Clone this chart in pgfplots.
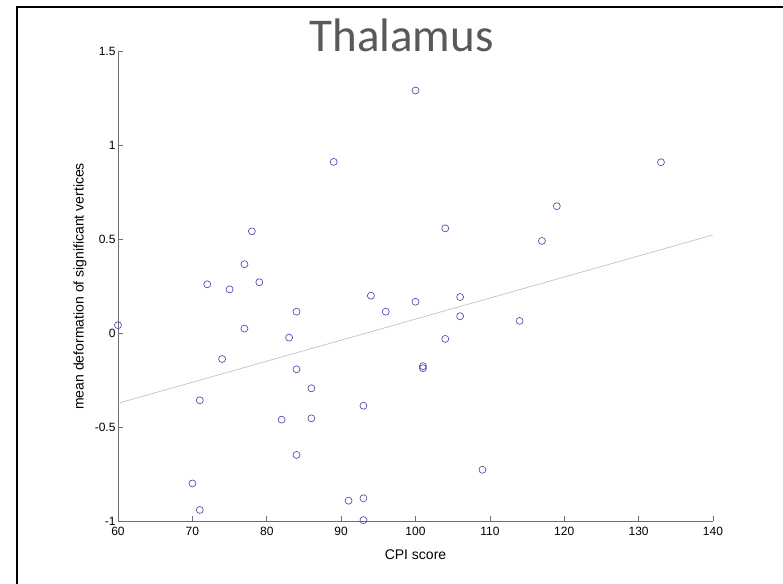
\documentclass[border=0pt]{standalone}
\usepackage{fontspec}
\setmainfont{Liberation Sans}
\newfontfamily\titlefont{Carlito}
\usepackage{pgfplots}
\pgfplotsset{compat=1.18}
\definecolor{markblue}{RGB}{72,72,172}
\definecolor{titlegray}{RGB}{89,89,89}
\definecolor{axisgray}{RGB}{110,110,110}
\definecolor{fitgray}{RGB}{195,195,195}

\begin{document}
\begin{tikzpicture}[x=1pt,y=1pt]
  \useasboundingbox (0,0) rectangle (783,583);
  % outer frame (cropped at right and bottom)
  \draw[line width=2pt] (16.5,-5) -- (16.5,575.5) -- (790,575.5);
  \node[font=\titlefont\fontsize{47}{50}\selectfont, text=titlegray, anchor=base]
    at (401.5,531.3) {Thalamus};
  \begin{axis}[
      at={(118pt,62pt)}, anchor=south west,
      scale only axis, width=595pt, height=469.3pt,
      xmin=60, xmax=140, ymin=-1, ymax=1.5,
      axis x line*=bottom, axis y line*=left,
      axis line style={-, draw=axisgray, line width=0.6pt},
      tick align=inside,
      major tick length=5pt,
      tick style={draw=axisgray, line width=0.6pt},
      xtick={60,70,...,140},
      xticklabels={60,70,80,90,100,110,120,130,140},
      ytick={-1,-0.5,0,0.5,1,1.5},
      yticklabels={-1,-0.5,0,0.5,1,1.5},
      ticklabel style={font=\fontsize{12}{14}\selectfont, text=black},
      xticklabel style={yshift=-3pt},
      yticklabel style={xshift=1pt},
      xlabel={CPI score},
      ylabel={mean deformation of significant vertices},
      label style={font=\fontsize{14}{16}\selectfont, text=black},
      xlabel style={at={(axis description cs:0.5,-0.072)}, anchor=center},
      ylabel style={at={(axis description cs:-0.064,0.5)}, anchor=center},
      clip=false,
    ]
    % regression line
    \addplot[fitgray, line width=0.7pt] coordinates {(60,-0.373) (140,0.524)};
    % subjects
    \addplot[only marks, mark=o, mark size=3.5pt,
      mark options={draw=markblue, line width=0.65pt}] coordinates {
      (60,0.043) (70,-0.800) (71,-0.357) (71,-0.941) (72,0.261)
      (74,-0.137) (75,0.234) (77,0.368) (77,0.025) (78,0.543)
      (79,0.272) (82,-0.460) (83,-0.023) (84,0.115) (84,-0.192)
      (84,-0.648) (86,-0.293) (86,-0.453) (89,0.913) (91,-0.892)
      (93,-0.386) (93,-0.879) (93,-0.995) (94,0.200) (96,0.115)
      (100,1.293) (100,0.168) (101,-0.175) (101,-0.186) (104,0.559)
      (104,-0.030) (106,0.193) (106,0.091) (109,-0.727) (114,0.066)
      (117,0.492) (119,0.677) (133,0.911)
    };
  \end{axis}
\end{tikzpicture}
\end{document}
